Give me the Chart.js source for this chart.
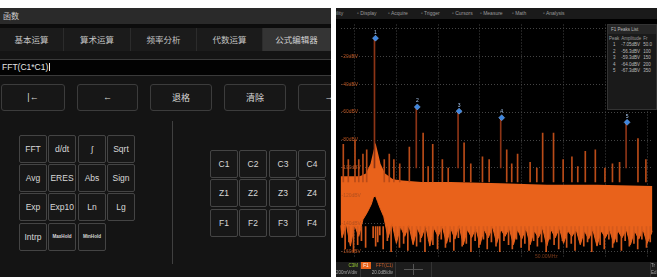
<!DOCTYPE html>
<html>
<head>
<meta charset="utf-8">
<script src="https://cdn.jsdelivr.net/npm/chart.js@4"></script>
<style>
  body { margin:0; width:657px; height:277px; background:#fff; position:relative; overflow:hidden;
         font-family:"Noto Sans CJK SC","Liberation Sans",sans-serif; }
  .abs { position:absolute; }
  #lp { left:0; top:8px; width:331px; height:269px; background:#141414; overflow:hidden; }
  #rp { left:336px; top:8px; width:321px; height:269px; background:#000; overflow:hidden; }
  .tab { top:20px; height:23px; line-height:23px; text-align:center; font-size:8.5px; color:#c4c4c4;
         background:#1b1b1b; border-right:1px solid #2c2c2c; box-sizing:border-box; }
  .btn { box-sizing:border-box; border:1px solid #3c3c3c; border-radius:3px; background:#171717;
         color:#d8d8d8; text-align:center; font-family:"Liberation Sans",sans-serif; }
  .menu { top:0; height:11px; line-height:11px; font-size:5px; color:#9a9a9a; font-family:"Liberation Sans",sans-serif; }
  .pk td { padding:0 1px; height:6.5px; }
</style>
</head>
<body>
<div id="lp" class="abs">
  <div class="abs" style="left:0;top:0;width:331px;height:16px;background:#2a2a2a;"></div>
  <div class="abs" style="left:3px;top:0;height:16px;line-height:16px;font-size:8px;color:#cfcfcf;">函数</div>
  <div class="abs" style="left:0;top:16px;width:331px;height:4px;background:#0c0c0c;"></div>
  <div id="tabs"></div>
  <div class="abs" style="left:0;top:51px;width:331px;height:17px;background:#020202;border-top:1px solid #3a3a3a;border-bottom:1px solid #3a3a3a;box-sizing:border-box;"></div>
  <div class="abs" style="left:2px;top:51px;height:17px;line-height:17px;font-size:8.5px;color:#e6e6e6;font-family:'Liberation Sans',sans-serif;">FFT(C1*C1)<span style="display:inline-block;width:1px;height:8px;background:#eee;vertical-align:-1px;margin-left:1px;"></span></div>
  <div class="abs" style="left:172px;top:113px;width:1px;height:143px;background:#404040;"></div>
</div>

<div id="rp" class="abs">
  <div class="abs" style="left:0;top:0;width:321px;height:11px;background:#1a1a1a;"></div>
  <div class="abs" style="left:0;top:12px;width:321px;height:242px;">
    <canvas id="fft"></canvas>
  </div>
  <div class="abs" style="left:199px;top:245px;font-size:5px;color:#7a3a1a;font-family:'Liberation Sans',sans-serif;">50.00MHz</div>
  <div class="abs" style="left:271px;top:16px;width:50px;height:86px;background:#1a1a1a;border:1px solid #333;box-sizing:border-box;font-family:'Liberation Sans',sans-serif;color:#bbb;font-size:4.5px;">
    <div style="height:9px;line-height:9px;background:#262626;padding-left:3px;">F1 Peaks List</div>
    <table class="pk" id="peakTable" style="border-collapse:collapse;margin-top:1px;white-space:nowrap;"></table>
  </div>
  <div class="abs" style="left:0;top:254px;width:321px;height:15px;background:#1c1c1c;"></div>
  <div class="abs" style="left:0;top:254px;width:24px;height:15px;border-right:1px solid #333;font-size:4.5px;color:#aaa;font-family:'Liberation Sans',sans-serif;">
    <div style="color:#9acd32;text-align:right;padding-right:2px;line-height:7px;">C3M</div>
    <div style="line-height:7px;">200mV/div</div>
  </div>
  <div class="abs" style="left:25px;top:254px;width:10px;height:7px;background:#e8641c;color:#fff;font-size:4.5px;line-height:7px;text-align:center;font-family:'Liberation Sans',sans-serif;">F1</div>
  <div class="abs" style="left:25px;top:254px;width:34px;height:15px;border-right:1px solid #333;font-size:4.5px;color:#aaa;font-family:'Liberation Sans',sans-serif;">
    <div style="color:#d0602a;text-align:right;padding-right:2px;line-height:7px;">FFT(C1)</div>
    <div style="text-align:right;padding-right:2px;line-height:7px;">20.0dB/div</div>
  </div>
  <div class="abs" style="left:60px;top:254px;width:35px;height:15px;border-right:1px solid #333;"></div>
  <div class="abs" style="left:77px;top:256px;width:1px;height:11px;background:#555;"></div>
  <div class="abs" style="left:68px;top:261px;width:19px;height:1px;background:#555;"></div>
  <div class="abs" style="left:314px;top:254px;width:7px;height:15px;border-left:1px solid #333;font-size:4.5px;color:#aaa;line-height:7px;font-family:'Liberation Sans',sans-serif;">Tr<br>Ed</div>
</div>

<script>
// UI labels
const tabNames = ['基本运算', '算术运算', '频率分析', '代数运算', '公式编辑器'];
const editKeys = ['|←', '←', '退格', '清除', '→'];
const funcKeys = ['FFT', 'd/dt', '∫', 'Sqrt', 'Avg', 'ERES', 'Abs', 'Sign', 'Exp', 'Exp10', 'Ln', 'Lg', 'Intrp', 'MaxHold', 'MinHold'];
const srcKeys = ['C1', 'C2', 'C3', 'C4', 'Z1', 'Z2', 'Z3', 'Z4', 'F1', 'F2', 'F3', 'F4'];
const menuItems = ['ility', 'Display', 'Acquire', 'Trigger', 'Cursors', 'Measure', 'Math', 'Analysis'];

// FFT data: x in horizontal divisions, y in dBV
const noiseX   = [0.16, 0.40, 0.62, 0.77, 0.88, 0.95, 1.00, 1.05, 1.12, 1.23, 1.42, 1.65, 2.10, 2.80, 4.00, 5.10, 6.30, 7.63];
const noiseTop = [-106, -106, -106, -104, -97, -88, -82, -88, -97, -104, -108, -109, -110, -110, -111, -112, -112, -113];

const lowX  = [0.16, 0.2, 0.3, 0.4, 0.5, 0.6, 0.7, 0.8, 0.9, 0.95, 1.0, 1.05, 1.1, 1.2, 1.3, 1.4, 1.5, 1.6, 1.7, 1.8, 1.9,
               2.0, 2.1, 2.2, 2.3, 2.4, 2.5, 2.6, 2.7, 2.8, 2.9, 3.0, 3.1, 3.2, 3.3, 3.4, 3.5, 3.6, 3.7, 3.8, 3.9,
               4.0, 4.1, 4.2, 4.3, 4.4, 4.5, 4.6, 4.7, 4.8, 4.9, 5.0, 5.1, 5.2, 5.3, 5.4, 5.5, 5.6, 5.7, 5.8, 5.9,
               6.0, 6.1, 6.2, 6.3, 6.4, 6.5, 6.6, 6.7, 6.8, 6.9, 7.0, 7.1, 7.2, 7.3, 7.4, 7.5, 7.63];
const lowDb = [-141, -150, -140, -156, -141, -149, -137, -132, -126, -121, -120, -124, -128, -135, -150, -140, -154, -142, -149, -141, -155,
               -143, -150, -141, -156, -143, -149, -142, -154, -143, -151, -141, -155, -144, -150, -143, -155, -144, -150, -142, -154,
               -144, -149, -143, -155, -144, -151, -143, -155, -145, -150, -143, -156, -144, -150, -143, -154, -145, -149, -144, -155,
               -145, -151, -144, -156, -145, -150, -144, -154, -145, -150, -144, -155, -145, -151, -144, -154, -145];

// thin hanging lines under the noise band
const grassX  = [0.25, 0.34, 0.45, 0.55, 0.64, 0.74, 0.92, 0.98, 1.03, 1.08, 1.16, 1.26, 1.35, 1.46, 1.55, 1.65, 1.75, 1.85, 1.96,
                 2.05, 2.16, 2.25, 2.35, 2.46, 2.55, 2.65, 2.76, 2.85, 2.96, 3.05, 3.15, 3.26, 3.36, 3.45, 3.56, 3.65, 3.75,
                 3.86, 3.95, 4.05, 4.16, 4.25, 4.35, 4.46, 4.55, 4.65, 4.76, 4.85, 4.95, 5.06, 5.15, 5.25, 5.36, 5.45, 5.55,
                 5.66, 5.75, 5.85, 5.96, 6.05, 6.15, 6.26, 6.35, 6.45, 6.56, 6.65, 6.75, 6.86, 6.95, 7.05, 7.16, 7.25, 7.35,
                 7.46, 7.55];
const grassDb = [-158, -153, -160, -155, -152, -157, -150, -156, -153, -148, -158, -152, -160, -151, -157, -154, -159, -150, -156,
                 -153, -160, -152, -155, -158, -151, -157, -153, -159, -150, -156, -154, -160, -152, -157, -151, -158, -153,
                 -156, -160, -152, -155, -158, -151, -157, -154, -159, -152, -156, -153, -160, -151, -155, -158, -152, -157,
                 -154, -159, -151, -156, -153, -160, -152, -155, -158, -151, -157, -153, -159, -152, -156, -154, -158, -151,
                 -157, -153];

const spikeX   = [0.23, 0.35, 0.51, 0.60, 0.70, 0.79, 1.21, 1.33, 1.44, 1.58, 1.81, 2.14, 2.26, 2.37, 2.60, 2.74, 3.12, 3.28, 3.56,
                  3.72, 4.14, 4.26, 4.40, 4.70, 4.86, 5.00, 5.26, 5.49, 5.70, 5.84, 6.02, 6.26, 6.49, 6.67, 6.84, 7.28, 7.47];
const spikeTop = [-83, -94, -80, -94, -90, -87, -94, -90, -94, -97, -85, -75, -99, -83, -94, -100, -82, -97, -92,
                  -94, -87, -97, -90, -96, -100, -75, -75, -94, -92, -99, -88, -87, -100, -97, -96, -79, -94];

const peakX    = [1.00, 2.00, 3.00, 4.02, 7.02];
const peakDb   = [-7.05, -56.3, -59.3, -64.0, -67.3];
const peakFreq = ['50.0', '100', '150', '200', '350'];

const yTicks = [0, -20, -40, -60, -80, -100, -120, -140, -160];

// ---- build the left panel ----
const lp = document.getElementById('lp');
function box(parent, cls, left, top, w, h, text, style) {
  let d = document.createElement('div');
  d.className = 'abs ' + cls;
  d.style.left = left + 'px'; d.style.top = top + 'px';
  d.style.width = w + 'px'; d.style.height = h + 'px';
  if (style) d.style.cssText += style;
  d.textContent = text;
  parent.appendChild(d);
  return d;
}
const tabL = [0, 64, 131, 197, 263], tabW = [64, 67, 66, 66, 68];
for (let i = 0; i < tabNames.length; i++) {
  box(lp, 'tab', tabL[i], 20, tabW[i], 23, tabNames[i], i == 4 ? 'background:#343434;color:#d0d0d0;' : '');
}
const keyL = [1, 77, 150, 224, 298], keyW = [64, 61, 62, 62, 62];
for (let i = 0; i < editKeys.length; i++) {
  let k = box(lp, 'btn', keyL[i], 76, keyW[i], 27, editKeys[i], 'line-height:25px;font-size:9px;');
  if (i == 2 || i == 3) k.style.fontFamily = '"Noto Sans CJK SC",sans-serif';
}
const gL = [19, 48, 78, 107], gT = [127, 156, 185, 215];
for (let i = 0; i < funcKeys.length; i++) {
  let small = funcKeys[i].length > 5;
  box(lp, 'btn', gL[i % 4], gT[Math.floor(i / 4)], 28, 28, funcKeys[i],
      'line-height:26px;border-radius:2px;border-color:#444;font-size:' + (small ? '4.6px;font-weight:bold;' : '8.5px;'));
}
const sL = [210, 239, 269, 298], sT = [142, 171, 201];
for (let i = 0; i < srcKeys.length; i++) {
  box(lp, 'btn', sL[i % 4], sT[Math.floor(i / 4)], 28, 28, srcKeys[i], 'line-height:26px;border-radius:2px;border-color:#444;font-size:8.5px;');
}

// ---- right panel menu + peak table ----
const rp = document.getElementById('rp');
const menuL = [0, 21, 52, 85, 116, 144, 176, 207];
for (let i = 0; i < menuItems.length; i++) {
  box(rp, 'menu', menuL[i], 0, 40, 11, (i ? '▫ ' : '') + menuItems[i], '');
}
let tbl = '<tr style="color:#999"><td>Peak</td><td>Amplitude</td><td>Fr</td></tr>';
for (let i = 0; i < peakDb.length; i++) {
  tbl += '<tr><td style="text-align:center">' + (i + 1) + '</td><td>' + peakDb[i].toFixed(i ? 1 : 2) + 'dBV</td><td>' + peakFreq[i] + '</td></tr>';
}
document.getElementById('peakTable').innerHTML = tbl;

// ---- FFT chart ----
const xy = (xs, ys) => xs.map((x, i) => ({ x: x, y: ys[i] }));

const overlay = {
  id: 'overlay',
  afterDatasetsDraw(chart) {
    const ctx = chart.ctx, ys = chart.scales.y, xs = chart.scales.x;
    ctx.save();
    ctx.font = '5px "Liberation Sans"';
    ctx.fillStyle = '#b4501e';
    ctx.textBaseline = 'middle';
    yTicks.forEach(v => { if (v < 0) ctx.fillText(v + 'dBV', chart.chartArea.left + 1, ys.getPixelForValue(v)); });
    ctx.fillStyle = '#a9c8f0';
    ctx.textAlign = 'center';
    peakX.forEach((x, i) => ctx.fillText(String(i + 1), xs.getPixelForValue(x), ys.getPixelForValue(peakDb[i]) - 6));
    ctx.restore();
  }
};

new Chart(document.getElementById('fft'), {
  type: 'scatter',
  data: {
    datasets: [
      { type: 'line', data: xy(noiseX, noiseTop), borderWidth: 0, pointRadius: 0, tension: 0,
        backgroundColor: '#e9621b', fill: { target: 1 }, order: 6 },
      { type: 'line', data: xy(lowX, lowDb), borderColor: '#e9621b', borderWidth: 1, pointRadius: 0, tension: 0,
        fill: false, order: 5 },
      { type: 'bar', data: grassX.map((x, i) => ({ x: x, y: [-142, grassDb[i]] })), backgroundColor: '#d55a1c',
        barThickness: 1, order: 4 },
      { type: 'bar', data: spikeX.map((x, i) => ({ x: x, y: [-110, spikeTop[i]] })), backgroundColor: '#b94b18',
        barThickness: 1, order: 3 },
      { type: 'bar', data: peakX.map((x, i) => ({ x: x, y: [-100, peakDb[i]] })), backgroundColor: '#8c3416',
        barThickness: 1, order: 2 },
      { data: xy(peakX, peakDb), pointStyle: 'rectRot', pointRadius: 3, backgroundColor: '#3d86e0',
        borderColor: '#7fb0f0', borderWidth: 0.5, order: 1 }
    ]
  },
  options: {
    responsive: true, maintainAspectRatio: false, animation: false,
    layout: { padding: 0 },
    plugins: { legend: { display: false }, tooltip: { enabled: false } },
    scales: {
      x: { type: 'linear', min: 0.163, max: 7.628, offset: false,
           afterBuildTicks: s => { s.ticks = [1, 2, 3, 4, 5, 6, 7].map(v => ({ value: v })); },
           ticks: { display: false }, border: { display: false, dash: [1, 2] },
           grid: { color: '#444', drawTicks: false, lineWidth: 1 } },
      y: { min: -164.14, max: 2.76,
           afterBuildTicks: s => { s.ticks = yTicks.map(v => ({ value: v })); },
           ticks: { display: false }, border: { display: false, dash: [1, 2] },
           grid: { color: '#444', drawTicks: false, lineWidth: 1 } }
    }
  },
  plugins: [overlay]
});
</script>
</body>
</html>
